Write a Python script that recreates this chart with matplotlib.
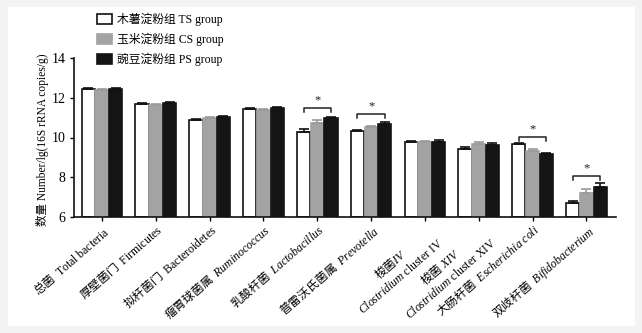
import matplotlib
matplotlib.use("Agg")
import matplotlib.pyplot as plt
import numpy as np
from matplotlib.patches import Rectangle, Patch

plt.rcParams['font.family'] = ['Liberation Serif', 'Noto Sans CJK SC']
plt.rcParams['mathtext.fontset'] = 'custom'
plt.rcParams['mathtext.rm'] = 'Noto Sans CJK SC'
plt.rcParams['mathtext.sf'] = 'Liberation Serif'
plt.rcParams['mathtext.it'] = 'Liberation Serif:italic'

categories = [
    r"$\mathrm{总菌}\ \ \mathsf{Total\ bacteria}$",
    r"$\mathrm{厚壁菌门}\ \ \mathsf{Firmicutes}$",
    r"$\mathrm{拟杆菌门}\ \ \mathsf{Bacteroidetes}$",
    r"$\mathrm{瘤胃球菌属}\ \ \mathit{Ruminococcus}$",
    r"$\mathrm{乳酸杆菌}\ \ \mathit{Lactobacillus}$",
    r"$\mathrm{普雷沃氏菌属}\ \ \mathit{Prevotella}$",
    "$\\mathrm{梭菌}\\mathit{IV}$\n$\\mathit{Clostridium}\\ \\mathsf{cluster\\ IV}$",
    "$\\mathrm{梭菌}\\ \\mathit{XIV}$\n$\\mathit{Clostridium}\\ \\mathsf{cluster\\ XIV}$",
    r"$\mathrm{大肠杆菌}\ \ \mathit{Escherichia\ coli}$",
    r"$\mathrm{双歧杆菌}\ \ \mathit{Bifidobacterium}$",
]
series_names = ["木薯淀粉组 TS group", "玉米淀粉组 CS group", "豌豆淀粉组 PS group"]
ts_values = [12.44, 11.68, 10.90, 11.45, 10.30, 10.32, 9.79, 9.44, 9.66, 6.71]
cs_values = [12.39, 11.64, 11.00, 11.38, 10.75, 10.53, 9.78, 9.66, 9.33, 7.20]
ps_values = [12.43, 11.72, 11.02, 11.47, 10.97, 10.70, 9.79, 9.63, 9.16, 7.53]
ts_err = [0.05, 0.05, 0.05, 0.05, 0.12, 0.05, 0.05, 0.10, 0.07, 0.12]
cs_err = [0.03, 0.03, 0.03, 0.03, 0.15, 0.06, 0.03, 0.12, 0.08, 0.22]
ps_err = [0.04, 0.06, 0.08, 0.05, 0.08, 0.10, 0.08, 0.09, 0.07, 0.18]
sig_groups = [4, 5, 8, 9]
sig_heights = [11.50, 11.20, 10.03, 8.07]
yticks = [6, 8, 10, 12, 14]

fig = plt.figure(figsize=(6.42, 3.33), dpi=100)
fig.patch.set_facecolor('#f3f3f3')
fig.patches.append(Rectangle((8/642, 1-326/333), (635-8)/642, (326-7)/333,
                             transform=fig.transFigure, facecolor='white',
                             edgecolor='none', zorder=-10))
ax = fig.add_axes([74/642, 1-217/333, (616-74)/642, (217-58)/333])
ax.set_facecolor('white')

x = np.arange(len(categories))
w = 0.245
off = 0.255
styles = [dict(facecolor='white', edgecolor='#111111', ecol='#111111'),
          dict(facecolor='#a3a3a3', edgecolor='#a3a3a3', ecol='#9a9a9a'),
          dict(facecolor='#141414', edgecolor='#141414', ecol='#111111')]
vals = [ts_values, cs_values, ps_values]
errs = [ts_err, cs_err, ps_err]
base = 6
for i, (v, e, st) in enumerate(zip(vals, errs, styles)):
    pos = x + (i - 1) * off
    h = np.array(v) - base
    ax.bar(pos, h, width=w, bottom=base, facecolor=st['facecolor'],
           edgecolor=st['edgecolor'], linewidth=1.2, zorder=2)
    ax.errorbar(pos, v, yerr=[np.zeros(len(e)), e], fmt='none',
                ecolor=st['ecol'], elinewidth=1.2, capsize=3.5, capthick=1.2, zorder=3)

for g, hgt in zip(sig_groups, sig_heights):
    x0, x1 = g - off, g + off
    ax.plot([x0, x0, x1, x1], [hgt - 0.2, hgt, hgt, hgt - 0.2], color='#222222', lw=1.1, zorder=4)
    ax.text(g, hgt + 0.08, '*', ha='center', va='bottom', fontsize=9, color='#222222')

ax.set_xlim(-0.52, 9.55)
ax.set_ylim(6, 14)
ax.set_yticks(yticks)
ax.set_yticklabels([str(t) for t in yticks], fontsize=10)
ax.set_xticks(x)
ax.set_xticklabels(categories, rotation=41, ha='right', va='top',
                   rotation_mode='anchor', fontsize=8.5, multialignment='center')
ax.tick_params(axis='x', length=3, width=1, pad=1)
ax.tick_params(axis='y', length=3, width=1, pad=3)
for s in ['top', 'right']:
    ax.spines[s].set_visible(False)
for s in ['left', 'bottom']:
    ax.spines[s].set_linewidth(1.2)
    ax.spines[s].set_color('#111111')

ax.set_ylabel("数量 Number/lg(16S rRNA copies/g)", fontsize=8.3)
ax.yaxis.set_label_coords(-0.047, 0.485)

handles = [Patch(facecolor=st['facecolor'], edgecolor=st['edgecolor'], linewidth=1.2) for st in styles]
fig.legend(handles, series_names, loc='upper left', bbox_to_anchor=(92/642, 1-8/333),
           frameon=False, fontsize=8.5, handlelength=1.3, handleheight=0.9,
           handletextpad=0.4, labelspacing=0.55, borderaxespad=0)

fig.savefig('out.png', dpi=100, facecolor=fig.get_facecolor())
